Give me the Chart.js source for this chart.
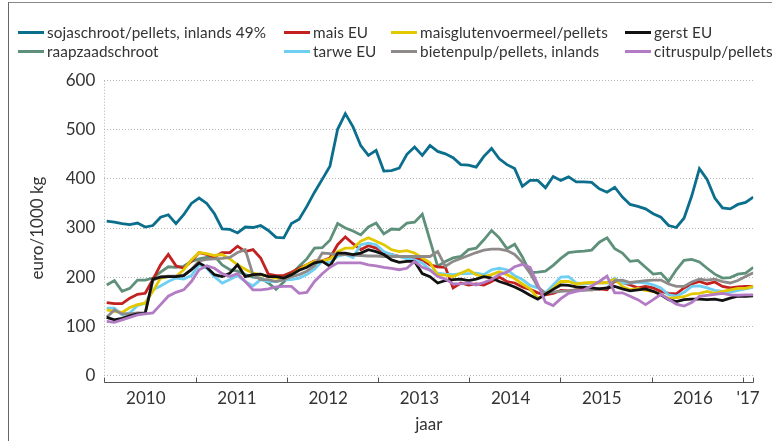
<!DOCTYPE html>
<html>
<head>
<meta charset="utf-8">
<script src="https://cdn.jsdelivr.net/npm/chart.js@4.4.1/dist/chart.umd.min.js"></script>
<style>
  body { margin: 0; background: #fff; font-family: Lato, "Open Sans", sans-serif; }
  #wrap { position: relative; width: 772px; height: 441px; overflow: hidden; }
  #frame { position: absolute; left: 8px; top: 2px; right: -2px; bottom: -2px; border-left: 1px solid #666; border-top: 1px solid #888; pointer-events: none; }
  #chart { position: absolute; left: 0; top: 0; }
  .lg { position: absolute; font-size: 15.3px; line-height: 18px; color: #333; white-space: nowrap; letter-spacing: 0.1px; }
  .lg i { position: absolute; left: -29px; top: 8px; width: 26px; height: 3px; }
</style>
</head>
<body>
<div id="wrap">
  <canvas id="chart" width="772" height="441"></canvas>
  <div id="legend"></div>
  <div id="frame"></div>
</div>
<script>
// monthly prices, Jan 2010 .. Jan 2017 (euro/1000 kg)
const sojaschroot = [314, 312, 309, 307, 310, 302, 305, 322, 327, 309, 327, 350, 361, 350, 329, 298, 297, 290, 302, 301,
  305, 295, 281, 280, 309, 318, 344, 373, 399, 426, 501, 533, 506, 468, 448, 458, 416, 417, 422, 450,
  465, 448, 468, 456, 451, 443, 429, 428, 424, 446, 462, 441, 429, 421, 385, 397, 397, 382, 405, 397,
  404, 394, 394, 393, 380, 373, 383, 363, 348, 344, 339, 329, 322, 305, 301, 320, 365, 421, 399, 361,
  341, 339, 348, 352, 363];
const maisEU = [148, 146, 146, 157, 165, 167, 195, 225, 246, 223, 218, 232, 250, 246, 241, 250, 250, 263, 252, 256,
  239, 206, 203, 203, 210, 218, 225, 233, 233, 239, 266, 282, 268, 256, 264, 259, 250, 246, 242, 239,
  239, 235, 225, 221, 220, 178, 188, 184, 186, 184, 191, 200, 191, 188, 180, 175, 168, 164, 167, 173,
  172, 174, 176, 174, 176, 174, 192, 189, 184, 178, 181, 178, 171, 167, 166, 178, 186, 191, 186, 190,
  181, 178, 180, 181, 181];
const maisgluten = [133, 130, 128, 138, 144, 147, 171, 198, 201, 201, 215, 235, 250, 248, 244, 246, 237, 225, 216, 208,
  205, 201, 198, 198, 205, 215, 225, 232, 233, 237, 252, 259, 259, 273, 280, 273, 266, 256, 252, 254,
  249, 239, 229, 205, 204, 201, 208, 215, 205, 201, 205, 211, 205, 197, 186, 176, 157, 165, 177, 191,
  191, 186, 188, 189, 188, 189, 196, 181, 174, 177, 173, 171, 164, 157, 158, 160, 166, 167, 171, 167,
  171, 174, 177, 177, 181];
const gerstEU = [118, 113, 116, 121, 125, 126, 196, 200, 201, 201, 203, 215, 229, 220, 205, 201, 208, 225, 201, 205,
  206, 201, 201, 198, 205, 214, 220, 229, 232, 222, 249, 249, 246, 249, 256, 252, 246, 235, 230, 232,
  232, 207, 201, 188, 193, 195, 196, 193, 196, 201, 198, 191, 186, 180, 172, 163, 155, 165, 175, 184,
  183, 180, 179, 178, 176, 178, 181, 176, 172, 174, 176, 171, 164, 154, 150, 154, 155, 155, 154, 155,
  152, 157, 161, 161, 162];
const raapzaad = [184, 193, 171, 177, 194, 194, 198, 210, 221, 220, 222, 232, 237, 240, 243, 225, 215, 212, 205, 200,
  198, 188, 175, 190, 206, 222, 237, 259, 260, 275, 309, 300, 294, 286, 302, 310, 288, 298, 297, 310,
  312, 328, 275, 222, 232, 239, 242, 256, 259, 276, 295, 280, 258, 267, 241, 209, 210, 212, 224, 238,
  250, 252, 253, 255, 271, 280, 258, 249, 232, 234, 220, 206, 208, 191, 215, 234, 236, 231, 218, 206,
  198, 199, 206, 208, 220];
const tarweEU = [137, 137, 123, 127, 142, 147, 174, 182, 191, 198, 196, 203, 225, 218, 201, 188, 195, 203, 191, 182,
  195, 191, 191, 195, 195, 198, 205, 216, 232, 229, 242, 246, 240, 266, 269, 266, 252, 246, 242, 237,
  235, 229, 215, 208, 206, 205, 207, 207, 208, 205, 215, 218, 215, 203, 195, 183, 178, 168, 184, 200,
  201, 188, 186, 188, 189, 188, 198, 188, 188, 190, 188, 184, 178, 164, 161, 169, 181, 182, 178, 173,
  171, 169, 173, 176, 179];
const bietenpulp = [118, 133, 125, 125, 127, 127, 193, 201, 202, 202, 204, 215, 233, 236, 237, 238, 240, 250, 256, 205,
  195, 195, 191, 195, 201, 205, 212, 223, 249, 248, 246, 246, 245, 244, 243, 243, 242, 242, 242, 242,
  242, 242, 242, 252, 222, 232, 238, 244, 250, 255, 257, 257, 254, 246, 230, 208, 180, 167, 170, 171,
  172, 174, 173, 174, 176, 178, 193, 194, 189, 191, 193, 194, 194, 186, 181, 181, 190, 196, 194, 196,
  191, 188, 193, 201, 209];
const citruspulp = [110, 108, 113, 118, 123, 125, 127, 144, 161, 169, 174, 191, 215, 223, 218, 207, 201, 207, 191, 174,
  174, 176, 180, 181, 181, 167, 169, 191, 207, 220, 229, 229, 229, 229, 225, 223, 220, 218, 215, 218,
  232, 220, 214, 201, 196, 186, 186, 188, 184, 189, 195, 205, 210, 221, 226, 220, 185, 149, 142, 156,
  167, 171, 174, 182, 191, 202, 168, 168, 161, 154, 144, 154, 165, 155, 145, 141, 148, 161, 163, 165,
  167, 164, 163, 164, 164];

const seriesNames = ['sojaschroot/pellets, inlands 49%', 'mais EU', 'maisglutenvoermeel/pellets', 'gerst EU',
  'raapzaadschroot', 'tarwe EU', 'bietenpulp/pellets, inlands', 'citruspulp/pellets'];
const seriesValues = [sojaschroot, maisEU, maisgluten, gerstEU, raapzaad, tarweEU, bietenpulp, citruspulp];
const seriesColors = ['#0b6e8c', '#c2211f', '#e3c800', '#111111', '#5f917a', '#6fcff3', '#8e8a8a', '#b27bc3'];
// lower = drawn on top (source stacks citrus, gerst, bieten ... over soja)
const drawOrder = [7, 5, 3, 1, 6, 4, 2, 0];

const yearLabels = ['2010', '2011', '2012', '2013', '2014', '2015', '2016', "'17"];
const firstYear = 2010;
const lastX = 2017.116;

// points sit a little wider than a calendar month apart in the source
const xOf = i => firstYear + 0.0263 + i * 0.0844;

// legend, two rows of four like the original
const legendCols = [47, 313, 420, 654];
const legendRows = [23, 42];
const legendSlots = [[0, 0], [0, 1], [0, 2], [0, 3], [1, 0], [1, 1], [1, 2], [1, 3]];
const legendEl = document.getElementById('legend');
seriesNames.forEach((name, k) => {
  const [r, c] = legendSlots[k];
  const d = document.createElement('div');
  d.className = 'lg';
  d.style.left = legendCols[c] + 'px';
  d.style.top = legendRows[r] + 'px';
  d.innerHTML = '<i style="background:' + seriesColors[k] + '"></i>' + name;
  legendEl.appendChild(d);
});

const yearBracket = {
  id: 'yearBracket',
  afterDraw(chart) {
    const { ctx, chartArea, scales: { x } } = chart;
    ctx.save();
    // dotted left edge of the plot
    ctx.strokeStyle = '#b0b0b0';
    ctx.setLineDash([1, 2]);
    ctx.beginPath();
    ctx.moveTo(Math.round(chartArea.left) + 0.5, chartArea.top);
    ctx.lineTo(Math.round(chartArea.left) + 0.5, chartArea.bottom);
    ctx.stroke();
    // year bracket under the plot
    ctx.setLineDash([]);
    ctx.strokeStyle = '#555';
    ctx.lineWidth = 1;
    const y = Math.round(chartArea.bottom + 7) + 0.5;
    ctx.beginPath();
    ctx.moveTo(x.left, y);
    ctx.lineTo(x.right, y);
    const edges = [];
    for (let yr = firstYear; yr <= firstYear + 7; yr++) edges.push(yr);
    edges.push(lastX);
    edges.forEach(v => {
      const px = Math.round(x.getPixelForValue(v)) + 0.5;
      ctx.moveTo(px, y);
      ctx.lineTo(px, y - 5);
    });
    ctx.stroke();
    ctx.restore();
  }
};

const labelPos = yearLabels.map((t, k) => k < 7 ? firstYear + k + 0.455 : (firstYear + 7 + lastX) / 2);

new Chart(document.getElementById('chart'), {
  type: 'line',
  data: {
    datasets: seriesValues.map((vals, k) => ({
      label: seriesNames[k],
      data: vals.map((v, i) => ({ x: xOf(i), y: v })),
      borderColor: seriesColors[k],
      borderWidth: 2.8,
      pointRadius: 0,
      tension: 0,
      fill: false,
      order: drawOrder[k]
    }))
  },
  options: {
    responsive: false,
    maintainAspectRatio: false,
    animation: false,
    layout: { padding: { top: 80.7, right: 18.7, left: 0, bottom: 0 } },
    plugins: { legend: { display: false }, tooltip: { enabled: false } },
    scales: {
      x: {
        type: 'linear',
        min: firstYear,
        max: lastX,
        afterFit: s => { s.height = 65.7; },
        afterBuildTicks: s => { s.ticks = labelPos.map(v => ({ value: v })); },
        grid: { display: false },
        border: { display: false },
        ticks: {
          autoSkip: false,
          maxRotation: 0,
          padding: 5,
          color: '#333',
          font: { family: 'Lato', size: 17 },
          callback: (v, idx) => yearLabels[idx]
        },
        title: {
          display: true,
          text: 'jaar',
          color: '#333',
          font: { family: 'Lato', size: 17 },
          padding: { top: 0, bottom: 6 }
        }
      },
      y: {
        min: 0,
        max: 600,
        afterFit: s => { s.width = 104.3; },
        ticks: {
          stepSize: 100,
          padding: 9,
          color: '#333',
          font: { family: 'Lato', size: 17 }
        },
        grid: { color: '#b5b5b5', lineWidth: 1, drawTicks: false },
        border: { display: false, dash: [1, 2] },
        title: {
          display: true,
          text: 'euro/1000 kg',
          color: '#333',
          font: { family: 'Lato', size: 17 },
          padding: { top: 27, bottom: 0 }
        }
      }
    }
  },
  plugins: [yearBracket]
});
</script>
</body>
</html>
